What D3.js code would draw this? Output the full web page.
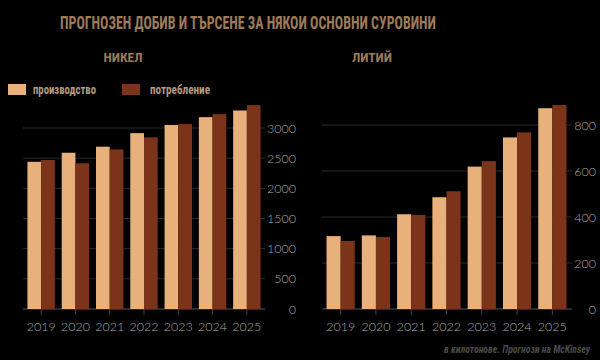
<!DOCTYPE html>
<html><head><meta charset="utf-8">
<script src="https://cdn.jsdelivr.net/npm/d3@7"></script>
<style>
html,body{margin:0;padding:0;background:#000;}
svg{display:block;}
</style></head>
<body>
<svg id="chart" width="600" height="360"></svg>
<script>
const years = ["2019","2020","2021","2022","2023","2024","2025"];
const nickelProduction = [2440, 2590, 2690, 2915, 3050, 3180, 3290];
const nickelConsumption = [2470, 2415, 2645, 2845, 3065, 3230, 3380];
const lithiumProduction = [317, 320, 412, 486, 619, 746, 873];
const lithiumConsumption = [296, 313, 409, 512, 643, 768, 887];
const nickelTicks = [0, 500, 1000, 1500, 2000, 2500, 3000];
const lithiumTicks = [0, 200, 400, 600, 800];
const seriesNames = ["производство", "потребление"];
const titleText = "ПРОГНОЗЕН ДОБИВ И ТЪРСЕНЕ ЗА НЯКОИ ОСНОВНИ СУРОВИНИ";
const panelTitles = ["НИКЕЛ", "ЛИТИЙ"];
const footnote = "в килотонове. Прогнози на McKinsey";

const colors = ["#e8b07a", "#7b3319"];
const condensed = "'Liberation Sans Narrow','Roboto Condensed','DejaVu Sans Condensed',Roboto,sans-serif";
const svg = d3.select("#chart");

svg.append("text").attr("x", 248).attr("y", 29).attr("text-anchor", "middle")
  .attr("font-family", condensed).attr("font-weight", "bold").attr("font-size", 19)
  .attr("fill", "#9c7a5a").attr("textLength", 376).attr("lengthAdjust", "spacingAndGlyphs")
  .text(titleText);

function panel(opts) {
  const g = svg.append("g");
  const x = d3.scaleBand().domain(years).range([opts.x0, opts.x1]).paddingInner(0.2).paddingOuter(0.1);
  const xs = d3.scaleBand().domain([0, 1]).range([0, x.bandwidth()]);
  const y = d3.scaleLinear().domain([0, opts.max]).range([309, 309 - opts.pxPerUnit * opts.max]);

  g.selectAll("line.grid").data(opts.ticks).join("line")
    .attr("x1", opts.gx0).attr("x2", opts.gx1)
    .attr("y1", d => y(d)).attr("y2", d => y(d))
    .attr("stroke", d => d === 0 ? "#555" : "#2a2a2a").attr("stroke-width", 1);

  [opts.prod, opts.cons].forEach((vals, si) => {
    g.selectAll("rect.s" + si).data(vals).join("rect")
      .attr("x", (d, i) => x(years[i]) + xs(si))
      .attr("width", xs.bandwidth())
      .attr("y", d => y(d))
      .attr("height", d => y(0) - y(d))
      .attr("fill", colors[si]);
  });

  const xAxis = d3.axisBottom(x).tickSize(6).tickSizeOuter(0);
  const xa = g.append("g").attr("transform", "translate(0,309)").call(xAxis);
  xa.select(".domain").remove();
  xa.selectAll(".tick line").attr("stroke", "#444");
  xa.selectAll(".tick text").attr("fill", "#a8a8a8").attr("font-family", "Lato, 'Open Sans', sans-serif")
    .attr("font-size", 12.5).attr("font-weight", 300).attr("dy", "1.05em");

  const yAxis = d3.axisRight(y).tickValues(opts.ticks).tickSize(0).tickFormat(d3.format("d"));
  const ya = g.append("g").attr("transform", `translate(${opts.labelX},0)`).call(yAxis);
  ya.select(".domain").remove();
  ya.selectAll(".tick text").attr("fill", "#a8a8a8").attr("font-family", "Lato, 'Open Sans', sans-serif")
    .attr("font-size", 12.5).attr("font-weight", 300).attr("text-anchor", "end").attr("x", 0);

  g.append("text").attr("x", opts.titleX).attr("y", 62).attr("text-anchor", "middle")
    .attr("font-family", condensed).attr("font-weight", "bold").attr("font-size", 13.5)
    .attr("fill", "#9c7a5a").text(opts.title);
}

panel({x0: 24, x1: 264, gx0: 23, gx1: 265, labelX: 296, max: 3400, pxPerUnit: 181/3000,
  ticks: nickelTicks, prod: nickelProduction, cons: nickelConsumption, title: panelTitles[0], titleX: 123});
panel({x0: 323, x1: 570, gx0: 322, gx1: 572, labelX: 596, max: 900, pxPerUnit: 184/800,
  ticks: lithiumTicks, prod: lithiumProduction, cons: lithiumConsumption, title: panelTitles[1], titleX: 372});

const leg = svg.append("g");
const legX = [8, 122];
const legTextW = [63, 60];
seriesNames.forEach((n, i) => {
  leg.append("rect").attr("x", legX[i]).attr("y", 84).attr("width", 18).attr("height", 11).attr("fill", colors[i]);
  leg.append("text").attr("x", legX[i] + 25 + (i ? 3 : 0)).attr("y", 94)
    .attr("font-family", condensed).attr("font-weight", "bold").attr("font-size", 12)
    .attr("fill", "#b39a82").attr("textLength", legTextW[i]).attr("lengthAdjust", "spacingAndGlyphs").text(n);
});

svg.append("text").attr("x", 590).attr("y", 353).attr("text-anchor", "end")
  .attr("font-family", condensed).attr("font-weight", "bold").attr("font-style", "italic").attr("font-size", 10)
  .attr("fill", "#4a4a4a").attr("textLength", 146).attr("lengthAdjust", "spacingAndGlyphs").text(footnote);
</script>
</body></html>
